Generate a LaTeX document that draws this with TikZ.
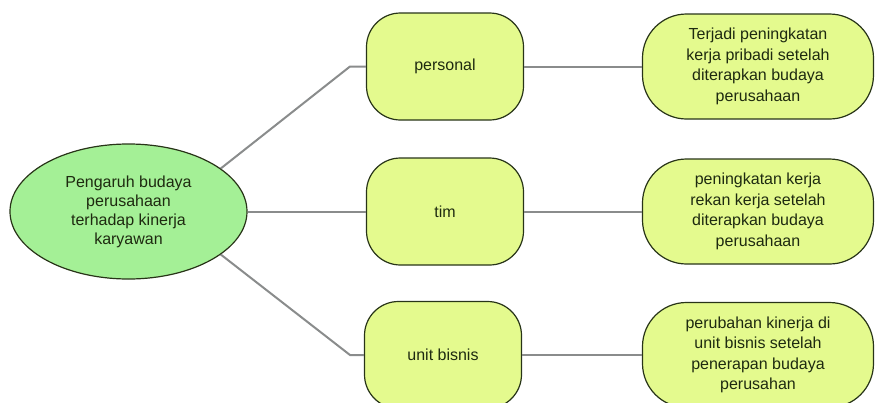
\documentclass[tikz,border=0pt]{standalone}
\usepackage{fontspec}
\setmainfont{Liberation Sans}
\usepackage{tikz}
\usetikzlibrary{shapes.geometric}
\usepackage{xcolor}
\definecolor{rootgreen}{RGB}{164,240,150}
\definecolor{boxlime}{RGB}{228,250,142}
\definecolor{edgedark}{RGB}{40,52,24}
\definecolor{linkgray}{RGB}{138,140,140}
\definecolor{txtdark}{RGB}{30,42,16}

\begin{document}
\begin{tikzpicture}[x=1pt,y=-1pt,
	topic/.style={draw=edgedark,line width=1.2pt,ellipse,fill=rootgreen,minimum width=237pt,minimum height=135pt,inner sep=0pt,align=center,text=txtdark,font=\fontsize{16}{19}\selectfont},
	aspect/.style={draw=edgedark,line width=1.2pt,rectangle,rounded corners=34pt,fill=boxlime,minimum width=157pt,minimum height=107pt,text=txtdark,font=\fontsize{16}{19}\selectfont},
	effect/.style={draw=edgedark,line width=1.2pt,rectangle,rounded corners=44pt,fill=boxlime,minimum width=231pt,minimum height=105pt,inner sep=0pt,align=center,text=txtdark,font=\fontsize{16}{20.5}\selectfont},
	link/.style={draw=linkgray,line width=2pt}]
	\useasboundingbox (0,0) rectangle (876,402);

	% root
	\node (root) at (128.5,211.5) [topic] {Pengaruh budaya\\perusahaan\\terhadap kinerja\\karyawan};

	% aspects
	\node (personal) at (445,66.5) [aspect] {personal};
	\node (tim) at (445,211.5) [aspect] {tim};
	\node (unit) at (443,355) [aspect] {unit bisnis};

	% effects
	\node (effpersonal) at (758,66.5) [effect] {Terjadi peningkatan\\kerja pribadi setelah\\diterapkan budaya\\perusahaan};
	\node (efftim) at (758,211.5) [effect] {peningkatan kerja\\rekan kerja setelah\\diterapkan budaya\\perusahaan};
	\node (effunit) at (758,355) [effect] {perubahan kinerja di\\unit bisnis setelah\\penerapan budaya\\perusahan};

	\coordinate (kp) at (350,66.5);
	\coordinate (ku) at (350,355);

	\draw [link] (root.25) -- (kp) -- (personal);
	\draw [link] (root) -- (tim);
	\draw [link] (root.-25) -- (ku) -- (unit);

	\draw [link] (personal) -- (effpersonal);
	\draw [link] (tim) -- (efftim);
	\draw [link] (unit) -- (effunit);
\end{tikzpicture}
\end{document}
